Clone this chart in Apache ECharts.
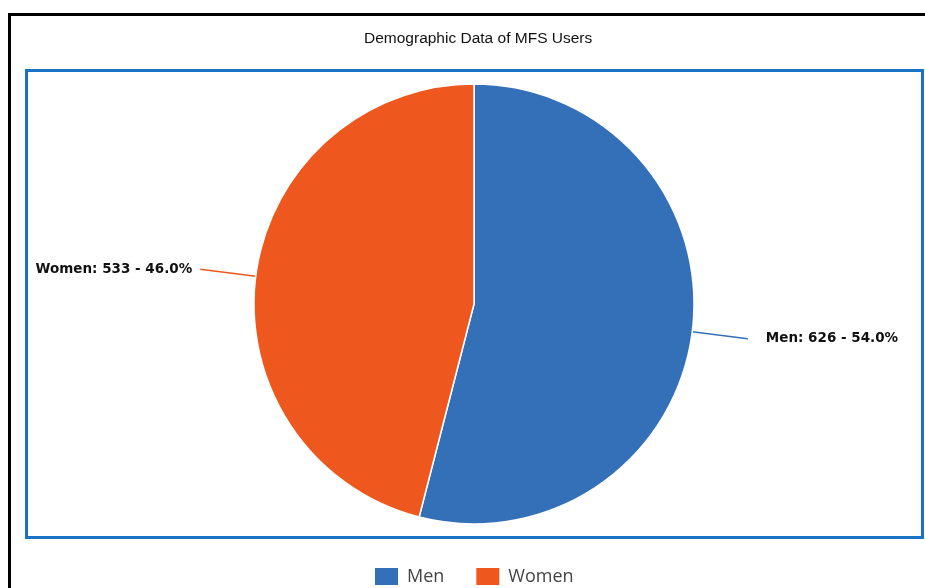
<!DOCTYPE html>
<html>
<head>
<meta charset="utf-8">
<script src="https://cdn.jsdelivr.net/npm/echarts@6/dist/echarts.min.js"></script>
<style>
  html, body { margin: 0; padding: 0; background: #fff; }
  #chart { width: 925px; height: 588px; }
</style>
</head>
<body>
<div id="chart"></div>
<script>
// Users by gender
const categories = ['Men', 'Women'];
const userCounts = [626, 533];
const sliceColors = ['#3470b7', '#ee571e'];

const chart = echarts.init(document.getElementById('chart'), null, { renderer: 'canvas' });

const total = userCounts.reduce((a, b) => a + b, 0);
const pieData = categories.map((name, i) => ({
  name,
  value: userCounts[i],
  itemStyle: { color: sliceColors[i] },
  labelLine: { lineStyle: { color: sliceColors[i] } },
  label: { distanceToLabelLine: i === 0 ? 18 : 8 }
}));

chart.setOption({
  animation: false,
  title: {
    text: 'Demographic Data of MFS Users',
    left: 359,
    top: 26,
    textStyle: {
      fontFamily: 'Arial',
      fontSize: 15.5,
      fontWeight: 'normal',
      color: '#111'
    }
  },
  legend: {
    top: 566,
    left: 373,
    padding: 0,
    itemWidth: 25,
    itemHeight: 19,
    itemGap: 30,
    icon: 'rect',
    data: categories,
    textStyle: {
      fontFamily: '"Open Sans", sans-serif',
      fontSize: 18,
      lineHeight: 19,
      color: '#444',
      padding: [0, 0, 0, 3]
    }
  },
  graphic: [
    {
      type: 'rect',
      shape: { x: 9.5, y: 14.5, width: 1000, height: 1000 },
      style: { fill: 'none', stroke: '#000', lineWidth: 3 },
      silent: true
    },
    {
      type: 'rect',
      shape: { x: 26.5, y: 70.5, width: 896, height: 467 },
      style: { fill: 'none', stroke: '#1a72c4', lineWidth: 3 },
      silent: true
    }
  ],
  series: [
    {
      type: 'pie',
      center: [474, 304],
      radius: 220,
      startAngle: 90,
      clockwise: true,
      data: pieData,
      itemStyle: { borderColor: '#fff', borderWidth: 1.5 },
      label: {
        show: true,
        formatter: p => `${p.name}: ${p.value} - ${(p.value / total * 100).toFixed(1)}%`,
        fontFamily: '"DejaVu Sans", sans-serif',
        fontWeight: 'bold',
        fontSize: 13.5,
        color: '#111'
      },
      labelLine: {
        show: true,
        length: 56,
        length2: 0,
        lineStyle: { width: 1.5 }
      },
      emphasis: { disabled: true }
    }
  ]
});
</script>
</body>
</html>
